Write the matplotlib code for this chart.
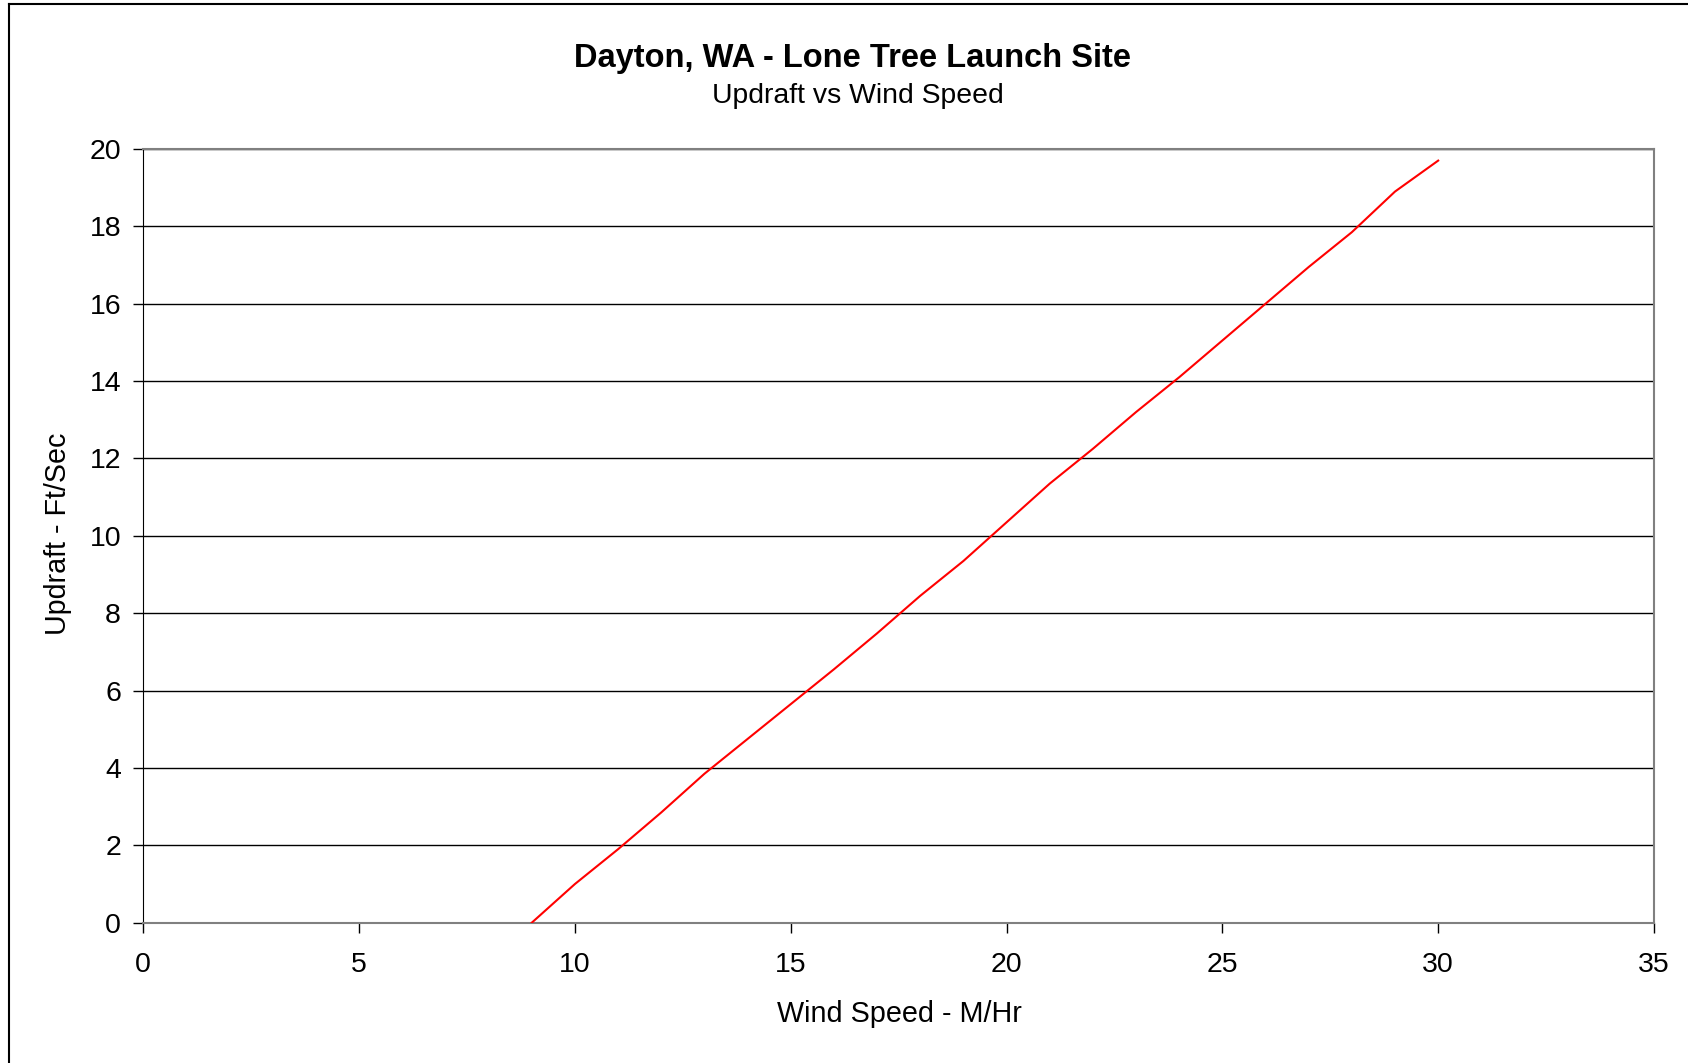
import numpy as np
import matplotlib
matplotlib.use('Agg')
import matplotlib.pyplot as plt
from matplotlib.lines import Line2D

plt.rcParams['font.family'] = ['Liberation Sans', 'DejaVu Sans']

# 数据：风速 (M/Hr) 与上升气流 (Ft/Sec)
wind_speed = [9, 10, 11, 12, 13, 14, 15, 16, 17, 18, 19, 20,
              21, 22, 23, 24, 25, 26, 27, 28, 29, 30]
updraft = [0.0, 1.0, 1.9, 2.85, 3.85, 4.75, 5.65, 6.55, 7.48, 8.45, 9.35, 10.35,
           11.35, 12.25, 13.2, 14.1, 15.05, 16.0, 16.95, 17.85, 18.9, 19.7]

x_ticks = [0, 5, 10, 15, 20, 25, 30, 35]
y_ticks = [0, 2, 4, 6, 8, 10, 12, 14, 16, 18, 20]

title = 'Dayton, WA - Lone Tree Launch Site'
subtitle = 'Updraft vs Wind Speed'
x_label = 'Wind Speed - M/Hr'
y_label = 'Updraft - Ft/Sec'

W, H = 1688, 1063
fig = plt.figure(figsize=(W / 100, H / 100), dpi=100)
ax = fig.add_axes([143.3 / W, 1 - 922.7 / H, (1654 - 143.3) / W, (922.7 - 149) / H])

ax.plot(wind_speed, updraft, color='#ff0000', lw=1.5, zorder=3)

ax.set_xlim(0, 35)
ax.set_ylim(0, 20)
ax.set_xticks(x_ticks)
ax.set_yticks(y_ticks)
ax.yaxis.grid(True, color='#000000', lw=1.0)
ax.set_axisbelow(True)

ax.tick_params(axis='both', labelsize=20.5, length=7, width=1, color='#000000', direction='out')
ax.tick_params(axis='y', pad=9)
ax.tick_params(axis='x', pad=14)

for side in ['top', 'right']:
    ax.spines[side].set_color('#808080')
    ax.spines[side].set_linewidth(1.5)
ax.spines['left'].set_color('#000000')
ax.spines['bottom'].set_color('#808080')
ax.spines['bottom'].set_linewidth(1.5)

# 坐标轴标题
fig.text(899 / W, 1 - 1014 / H, x_label, ha='center', va='center', fontsize=20.7)
fig.text(58 / W, 1 - 534 / H, y_label, ha='center', va='center', fontsize=20.6, rotation=90)

# 图表标题
fig.text(853 / W, 1 - 58 / H, title, ha='center', va='center', fontsize=23.5, fontweight='bold')
fig.text(858 / W, 1 - 96 / H, subtitle, ha='center', va='center', fontsize=20.4)

# 外框（图表区边框）
fig.add_artist(Line2D([8.5 / W, 8.5 / W], [0, 1 - 4 / H], color='#000000', lw=1.5))
fig.add_artist(Line2D([8.5 / W, 1], [1 - 4 / H, 1 - 4 / H], color='#000000', lw=1.5))

fig.savefig('out.png', dpi=100)
